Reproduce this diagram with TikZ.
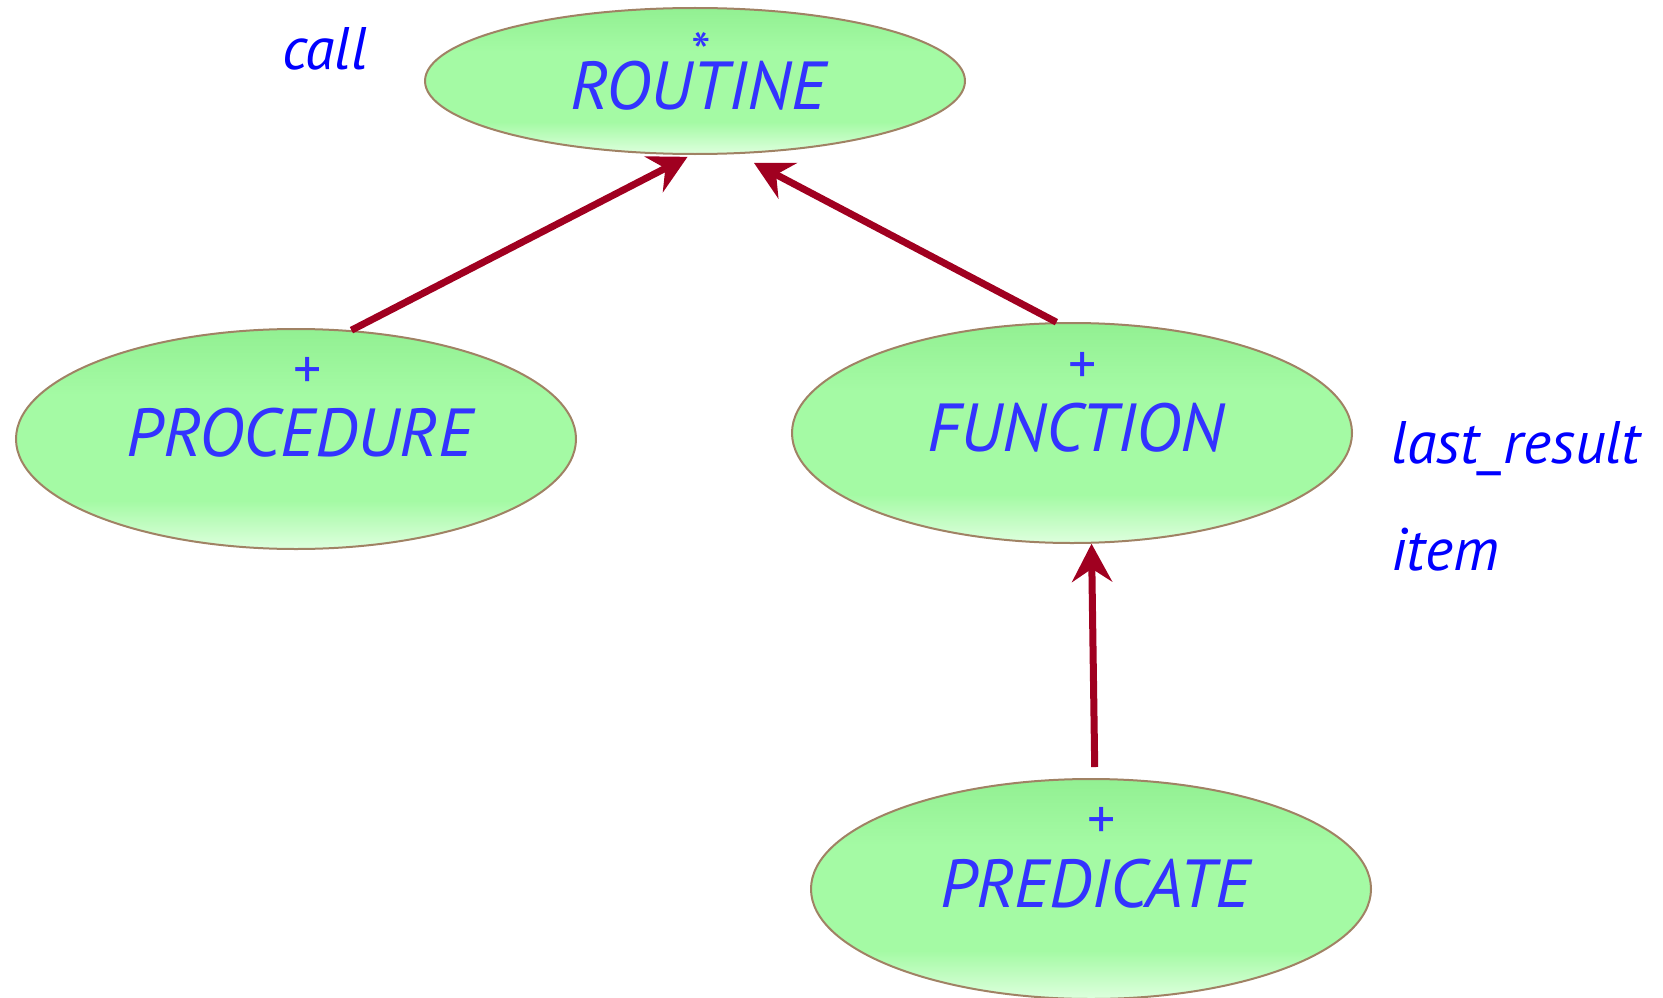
\documentclass[tikz,border=0pt]{standalone}
\usepackage{fontspec}
\setmainfont{PT Sans}
\usetikzlibrary{shapes.geometric,arrows.meta}
\definecolor{nodeblue}{RGB}{51,51,255}
\definecolor{labelblue}{RGB}{0,0,255}
\definecolor{arrowred}{RGB}{160,0,32}
\definecolor{edgebrown}{RGB}{160,130,100}
\definecolor{greentop}{RGB}{146,240,146}
\definecolor{greenmid}{RGB}{164,250,164}
\definecolor{greenbot}{RGB}{222,255,222}
\pgfdeclareverticalshading{glossy}{100bp}{color(0bp)=(greenbot); color(25bp)=(greenbot); color(36bp)=(greenmid); color(60bp)=(greenmid); color(75bp)=(greentop); color(100bp)=(greentop)}
\begin{document}
\begin{tikzpicture}[x=1pt,y=-1pt,
  cls/.style={ellipse, draw=edgebrown, line width=2pt, shading=glossy,
    minimum width=560pt, minimum height=220pt, inner sep=0pt},
  nametext/.style={text=nodeblue, font=\fontsize{68}{72}\selectfont\itshape, inner sep=0pt, anchor=base},
  marktext/.style={text=nodeblue, font=\fontsize{56}{60}\selectfont, inner sep=0pt},
  lbl/.style={text=labelblue, font=\fontsize{60}{64}\selectfont\itshape, inner sep=0pt, anchor=base west},
  inherit/.style={draw=arrowred, line width=7pt, -{Stealth[length=38pt,width=40pt,inset=13pt]}}
]
\useasboundingbox (0,0) rectangle (1663,998);
% classes
\node[cls, minimum width=540pt, minimum height=146pt] (routine) at (695,81) {};
\node[cls] (proc) at (296,439) {};
\node[cls] (func) at (1072,433) {};
\node[cls] (pred) at (1091,889) {};
% texts
\node[marktext] (routineM) at (701,52) {\raisebox{0pt}[\height][-0.4em]{*}};
\node[nametext] (routineT) at (698,110) {ROUTINE};
\node[marktext] (procM) at (308,373) {+};
\node[nametext] (procT) at (300,456) {PROCEDURE};
\node[marktext] (funcM) at (1083,368) {+};
\node[nametext] (funcT) at (1076,451) {FUNCTION};
\node[marktext] (predM) at (1102,823) {+};
\node[nametext] (predT) at (1095,907) {PREDICATE};
% feature labels
\node[lbl] (call) at (282,70) {call};
\node[lbl] (lastresult) at (1391,463) {last\_result};
\node[lbl] (item) at (1391,570) {item};
% inheritance arrows
\draw[inherit, shorten >=4pt] (proc.63) -- (routine.-93);
\draw[inherit, shorten >=19pt] (func.98) -- (routine.-60);
\draw[inherit, shorten <=11pt] (pred.88) -- (func.-80);
\end{tikzpicture}
\end{document}
